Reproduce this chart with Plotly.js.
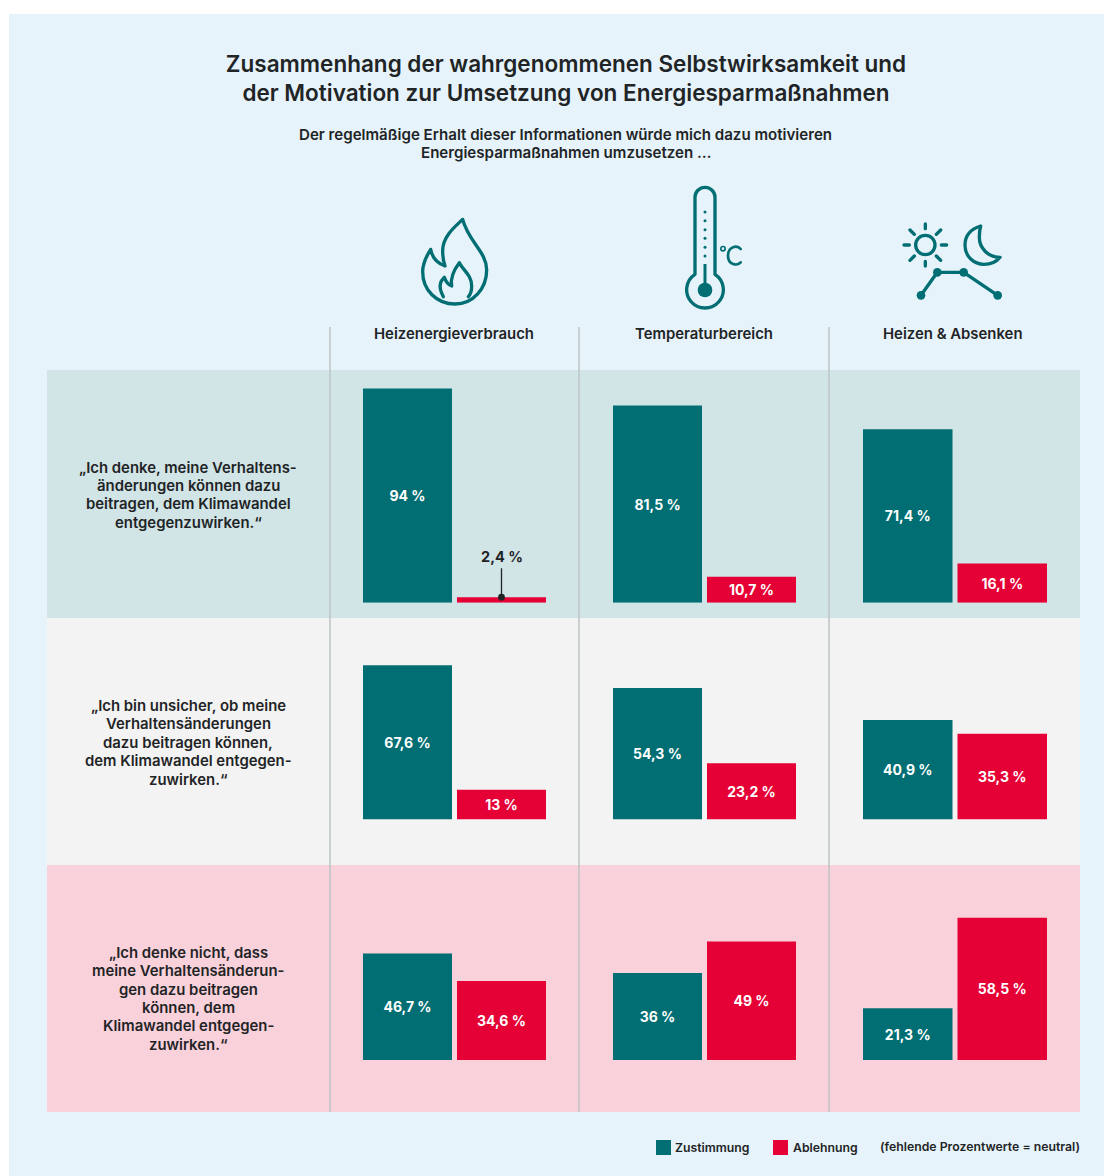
<!DOCTYPE html>
<html lang="de">
<head>
<meta charset="utf-8">
<script src="https://cdn.plot.ly/plotly-3.0.1.min.js"></script>
<style>html,body{margin:0;padding:0;background:#fff}#chart{width:1104px;height:1176px}</style>
</head>
<body>
<div id="chart"></div>
<script>
const W = 1104, H = 1176;

const chartTitle = "Zusammenhang der wahrgenommenen Selbstwirksamkeit und<br>der Motivation zur Umsetzung von Energiesparmaßnahmen";
const chartSubtitle = ["Der regelmäßige Erhalt dieser Informationen würde mich dazu motivieren", "Energiesparmaßnahmen umzusetzen …"];
const measures = ["Heizenergieverbrauch", "Temperaturbereich", "Heizen & Absenken"];
const statements = [
  ["„Ich denke, meine Verhaltens-", "änderungen können dazu", "beitragen, dem Klimawandel", "entgegenzuwirken.“"],
  ["„Ich bin unsicher, ob meine", "Verhaltensänderungen", "dazu beitragen können,", "dem Klimawandel entgegen-", "zuwirken.“"],
  ["„Ich denke nicht, dass", "meine Verhaltensänderun-", "gen dazu beitragen", "können, dem", "Klimawandel entgegen-", "zuwirken.“"]
];
const seriesNames = ["Zustimmung", "Ablehnung"];
const zustimmung = [[94, 81.5, 71.4], [67.6, 54.3, 40.9], [46.7, 36, 21.3]];
const ablehnung = [[2.4, 10.7, 16.1], [13, 23.2, 35.3], [34.6, 49, 58.5]];
const legendNote = "(fehlende Prozentwerte = neutral)";

const TEAL = "#006e72", RED = "#e50035", INK = "#1f2426";
const FONT = "Inter, sans-serif";

const px = x => x / W;
const py = y => 1 - y / H;

/* layout geometry in page pixels */
const bands = [[370, 618, "#d1e4e6"], [618, 865, "#f3f3f3"], [865, 1112, "#f9d1da"]];
const baselines = [602.7, 819.5, 1060];
const colX = [[360.5, 548.5], [610.5, 798.5], [860.5, 1049.5]];
const pxPerPercent = [2.28, 2.42, 2.43];
const labelY = [495.3, 742.8, 998.8];
const headerX = [454.3, 704.3, 953.3];

const fmt = v => String(v).replace(".", ",") + " %";

const traces = [];
const layout = {
  width: W, height: H,
  margin: {l: 0, r: 0, t: 0, b: 0},
  paper_bgcolor: "#ffffff",
  plot_bgcolor: "rgba(0,0,0,0)",
  showlegend: false,
  bargap: 0.053,
  barmode: "overlay",
  font: {family: FONT, color: INK},
  title: {
    text: chartTitle, x: 566 / W, xanchor: "center", y: py(71.5), yanchor: "middle",
    font: {family: FONT, size: 22.5, weight: 600, color: INK}
  },
  shapes: [], annotations: [], images: []
};

const rect = (x0, y0, x1, y1, color) => ({
  type: "rect", xref: "paper", yref: "paper", layer: "below",
  x0: px(x0), x1: px(x1), y0: py(y0), y1: py(y1),
  fillcolor: color, line: {width: 0}
});
const note = (text, x, y, size, weight, anchor, color) => ({
  text, xref: "paper", yref: "paper", x: px(x), y: py(y), showarrow: false,
  xanchor: anchor || "center", yanchor: "middle", align: anchor === "right" ? "right" : "center",
  font: {family: FONT, size, weight: weight || 600, color: color || INK}
});
const block = (lines, x, yMid, size, spacing) => lines.forEach((line, i) =>
  layout.annotations.push(note(line, x, yMid + (i - (lines.length - 1) / 2) * spacing, size, 600)));

layout.shapes.push(rect(9, 14, W, H, "#e6f3fa"));
bands.forEach(b => layout.shapes.push(rect(47, b[0], 1080, b[1], b[2])));
[330, 579, 829].forEach(x => layout.shapes.push({
  type: "line", xref: "paper", yref: "paper", layer: "below",
  x0: px(x), x1: px(x), y0: py(327), y1: py(1112),
  line: {color: "#bcc3c6", width: 1.5}
}));

let idx = 0;
zustimmung.forEach((rowVals, r) => {
  rowVals.forEach((_, c) => {
    idx++;
    const sfx = idx === 1 ? "" : String(idx);
    const base = baselines[r], top = bands[r][0];
    layout["xaxis" + sfx] = {
      domain: [px(colX[c][0]), px(colX[c][1])],
      anchor: "y" + sfx, type: "category", categoryarray: seriesNames,
      range: [-0.5, 1.5], visible: false, fixedrange: true
    };
    layout["yaxis" + sfx] = {
      domain: [py(base), py(top)],
      anchor: "x" + sfx, range: [0, (base - top) / pxPerPercent[c]],
      visible: false, fixedrange: true
    };
    const vals = [zustimmung[r][c], ablehnung[r][c]];
    const small = vals.map(v => v < 5);
    traces.push({
      type: "bar", x: seriesNames, y: vals,
      xaxis: "x" + sfx, yaxis: "y" + sfx,
      marker: {color: [TEAL, RED], line: {width: 0}},
      text: vals.map((v, i) => small[i] ? "" : fmt(v)),
      textposition: "inside", insidetextanchor: "middle", textangle: 0,
      constraintext: "none",
      textfont: {family: FONT, size: 14, weight: 700, color: "#ffffff"},
      hovertemplate: "%{x}: %{y} %<extra></extra>"
    });
    vals.forEach((v, i) => {
      if (small[i]) layout.annotations.push({
        text: fmt(v), xref: "x" + sfx, yref: "y" + sfx, x: seriesNames[i], y: v,
        showarrow: true, axref: "pixel", ayref: "pixel", ax: 0, ay: -41,
        arrowhead: 6, arrowsize: 1.3, arrowwidth: 1.3, arrowcolor: INK, standoff: 0, startstandoff: 2,
        font: {family: FONT, size: 14.5, weight: 700, color: INK}
      });
    });
  });
});

block(chartSubtitle, 566, 143.4, 15.1, 18);
measures.forEach((m, c) => layout.annotations.push(note(m, headerX[c], 333.5, 14.9, 600)));
statements.forEach((s, r) => block(s, 188, labelY[r], 14.9, 18.4));

/* legend key */
[[656, TEAL, 673.3], [773, RED, 791.3]].forEach((k, i) => {
  layout.shapes.push(rect(k[0], 1140, k[0] + 15, 1155, k[1]));
  layout.annotations.push(note(seriesNames[i], k[2], 1147.5, 12.25, 600, "left"));
});
layout.annotations.push(note(legendNote, 1081.5, 1146.5, 12.25, 600, "right"));

/* pictograms */
const svg = (vb, body) => "data:image/svg+xml," + encodeURIComponent(
  `<svg xmlns="http://www.w3.org/2000/svg" viewBox="${vb}" fill="none" stroke="${TEAL}" stroke-linecap="round" stroke-linejoin="round">${body}</svg>`);
const icon = (src, x, y, w, h) => ({
  source: src, xref: "paper", yref: "paper", x: px(x), y: py(y),
  sizex: w / W, sizey: h / H, xanchor: "left", yanchor: "top", sizing: "stretch", layer: "above"
});
const flame = svg("0 0 360 510", `<g stroke-width="10">
<path d="M188 118C175 132 128 165 128 212C128 230 130 245 135 258C112 250 97 235 92 208C75 235 68 255 68 275C68 330 110 372 165 372C220 372 260 325 260 270C260 215 205 185 188 118Z"/>
<path d="M130 350C122 335 118 320 122 308C125 300 130 296 133 292C138 305 145 315 155 318C150 290 165 265 178 248C190 272 215 285 215 318C215 335 210 345 205 350"/></g>`);
const thermo = svg("780 0 300 510", `<path stroke-width="10" d="M885 283L885 52A30 30 0 0 1 945 52L945 283A55 55 0 1 1 885 283Z"/>
<circle cx="915" cy="330" r="22" fill="${TEAL}" stroke="none"/>
<path stroke-width="9" stroke-linecap="butt" d="M915 252L915 312"/>
<g fill="${TEAL}" stroke="none"><circle cx="915" cy="96" r="4.5"/><circle cx="915" cy="122" r="4.5"/><circle cx="915" cy="149" r="4.5"/><circle cx="915" cy="175" r="4.5"/><circle cx="915" cy="202" r="4.5"/><circle cx="915" cy="228" r="4.5"/></g>
<circle cx="969" cy="206" r="6.5" stroke-width="5"/>
<path stroke-width="8" d="M1022 207C1012 195 984 198 984 227C984 256 1012 258 1022 247"/>`);
const dayNight = svg("0 0 720 450", `<g stroke-width="10"><circle cx="316" cy="135" r="29"/>
<path d="M316 72L316 86M316 184L316 198M252 135L268 135M364 135L380 135M270 90L283 103M362 90L349 103M270 181L283 168M362 181L349 168"/>
<path d="M482 78C450 88 435 110 435 135C435 170 462 193 492 193C512 193 530 185 540 172C505 172 478 145 478 112C478 100 479 88 482 78Z"/>
<path d="M303 286L352 217L431 217L533 286"/></g>
<g fill="${TEAL}" stroke="none"><circle cx="303" cy="286" r="13"/><circle cx="352" cy="217" r="13"/><circle cx="431" cy="217" r="13"/><circle cx="533" cy="286" r="13"/></g>`);
layout.images.push(icon(flame, 400, 180, 120, 170), icon(thermo, 660, 180, 100, 170), icon(dayNight, 820, 200, 240, 150));

Plotly.newPlot("chart", traces, layout, {displayModeBar: false, responsive: false});
</script>
</body>
</html>
